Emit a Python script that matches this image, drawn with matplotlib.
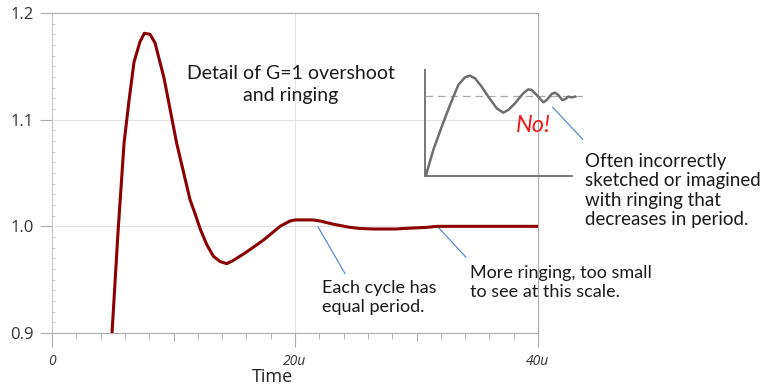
import matplotlib
matplotlib.use("Agg")
import matplotlib.pyplot as plt

# step response (G=1), time in microseconds
time_us = [4.94, 5.43, 5.93, 6.34, 6.75, 7.24, 7.6, 8.07, 8.48, 9.22, 10.26, 11.36, 11.77,
           12.18, 12.73, 13.28, 13.83, 14.38, 14.92, 16.02, 17.39, 18.77, 19.59, 20.0, 21.51,
           22.06, 23.15, 24.53, 25.35, 26.44, 28.36, 28.9, 30.8, 31.7, 40.0]
response = [0.900, 0.994, 1.078, 1.118, 1.154, 1.173, 1.181, 1.180, 1.172, 1.139, 1.078, 1.025, 1.012,
            0.998, 0.983, 0.972, 0.967, 0.965, 0.968, 0.976, 0.987, 1.000, 1.005, 1.006, 1.006,
            1.005, 1.002, 0.999, 0.998, 0.9975, 0.9975, 0.998, 0.999, 1.000, 1.000]

yticks = [0.9, 1.0, 1.1, 1.2]
ytick_labels = ["0.9", "1.0", "1.1", "1.2"]
xticks = [0, 10, 20, 30, 40]
xtick_labels = ["0", "", "20u", "", "40u"]

# the "wrong" hand sketch: ringing whose period shrinks (arbitrary units)
sketch_x = [1, 8.3, 16.7, 25, 33.3, 40, 45, 50, 56.7, 63.3, 71.7, 78.3, 83.3, 90, 98.3, 103.3,
            106.7, 111.7, 118.3, 121.7, 126.7, 130, 133.3, 137.3, 140, 143.3, 146.7, 150]
sketch_y = [1, 26, 49.3, 71, 91, 98.7, 100.3, 97.7, 89.3, 79.3, 67.7, 63.3, 66, 72.7, 82.7, 86.7,
            86, 81, 73.7, 76, 82, 83.3, 81, 76, 76.7, 79.3, 78.7, 79.3]
sketch_final = 80

W, H = 761, 386
fig = plt.figure(figsize=(W / 100, H / 100), dpi=100)
ax = fig.add_axes([52 / W, 1 - 333 / H, (538 - 52) / W, (333 - 13) / H])

GRID = "#e4e4e4"
FRAME = "#ababab"
for v in [1.0, 1.1]:
    ax.axhline(v, color=GRID, lw=0.8, zorder=0)
ax.axvline(20, color=GRID, lw=0.8, zorder=0)

ax.plot(time_us, response, color="#8b0000", lw=2.2, solid_joinstyle="round", zorder=3)

ax.set_xlim(0, 40)
ax.set_ylim(0.9, 1.2)
for s in ["top", "right", "bottom"]:
    ax.spines[s].set_color(FRAME)
ax.spines["left"].set_color("#c4c4c4")

ax.set_yticks(yticks)
ax.set_yticklabels(ytick_labels, fontsize=12, color="#333333", family="Open Sans")
ax.set_yticks([0.9 + 0.01 * i for i in range(31)], minor=True)
ax.tick_params(axis="y", which="major", length=9, color=FRAME, pad=4)
ax.tick_params(axis="y", which="minor", direction="in", length=2.5, color="#c4c4c4")

ax.set_xticks(xticks)
ax.set_xticklabels(xtick_labels, fontsize=10, style="italic", color="#333333", family="Open Sans")
ax.set_xticks([2 * i for i in range(21)], minor=True)
ax.tick_params(axis="x", which="major", length=10, color=FRAME, pad=5)
ax.tick_params(axis="x", which="minor", length=4, color=FRAME)
for t, v in zip(ax.xaxis.get_major_ticks(), xticks):
    if v in (10, 30):
        t.tick1line.set_markersize(6)

fig.text(273 / W, 1 - 377 / H, "Time", ha="center", va="center", fontsize=13,
         color="#222222", family="Open Sans")

# leader lines from the curve to the notes
LEAD = "#5b8bd0"
ax.plot([21.9, 24.1], [0.9994, 0.956], color=LEAD, lw=0.9, zorder=2)
ax.plot([31.77, 34.07], [0.9994, 0.971], color=LEAD, lw=0.9, zorder=2)

# inset with the misleading sketch
ins = fig.add_axes([405 / W, 1 - 205 / H, (600 - 405) / W, (205 - 45) / H], zorder=2)
ins.set_facecolor("white")
ins.set_xlim(-20, 175)
ins.set_ylim(-29, 131)
ins.axis("off")
ins.patch.set_visible(True)
ins.plot([0, 0], [0, 106], color="#777777", lw=1.4)
ins.plot([0, 147], [0, 0], color="#777777", lw=1.4)
ins.plot([0, 158], [sketch_final, sketch_final], color="#aaaaaa", lw=0.9, dashes=(6, 4))
ins.plot(sketch_x, sketch_y, color="#6e6e6e", lw=1.8, solid_joinstyle="round")
ins.plot([127.7, 157.7], [68.7, 36.7], color=LEAD, lw=0.9)
ins.text(108, 50, "No!", color="#ee1c1c", fontsize=17, style="italic", ha="center", va="center",
         family="Lato")

NOTE = dict(family="Lato", color="#1a1a1a", va="center")
fig.text(290.5 / W, 1 - 84.5 / H, "Detail of G=1 overshoot\nand ringing", ha="center",
         multialignment="center", fontsize=14, linespacing=1.35, **NOTE)
fig.text(322 / W, 1 - 297.5 / H, "Each cycle has\nequal period.", ha="left", fontsize=13,
         linespacing=1.2, **NOTE)
fig.text(470 / W, 1 - 282.5 / H, "More ringing, too small\nto see at this scale.", ha="left",
         fontsize=13, linespacing=1.2, **NOTE)
fig.text(585 / W, 1 - 190.5 / H,
         "Often incorrectly\nsketched or imagined\nwith ringing that\ndecreases in period.",
         ha="left", fontsize=13.5, linespacing=1.18, zorder=5, **NOTE)

fig.savefig("out.png", dpi=100)
